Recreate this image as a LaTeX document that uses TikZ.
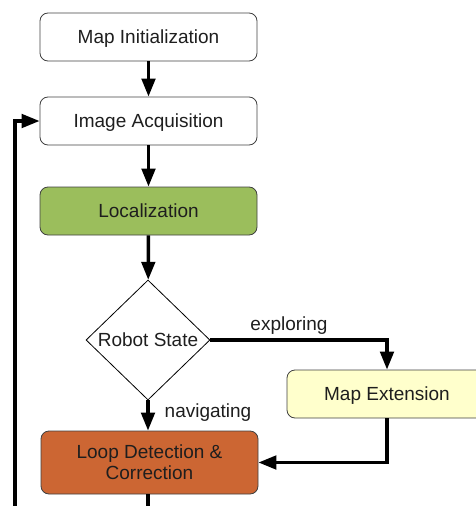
\documentclass[tikz,border=0pt]{standalone}
\usepackage{fontspec}
\setmainfont{Liberation Sans}
\usetikzlibrary{shapes.geometric,arrows.meta}
\definecolor{locgreen}{RGB}{155,190,92}
\definecolor{extyellow}{RGB}{255,255,204}
\definecolor{looporange}{RGB}{204,102,51}
\definecolor{txt}{RGB}{30,30,30}
\begin{document}
\begin{tikzpicture}[x=1pt,y=-1pt,
  box/.style={draw=black!75, line width=0.8pt, rounded corners=8pt,
    minimum width=217pt, minimum height=48pt, inner sep=0pt, align=center,
    text=txt, font=\fontsize{19}{21}\selectfont},
  oneline/.style={text height=13.6pt, text depth=0pt},
  decision/.style={diamond, draw=black, line width=0.8pt, aspect=1.03,
    minimum width=124pt, minimum height=120pt, inner sep=0pt,
    text=txt, font=\fontsize{19}{21}\selectfont,
    text height=13.6pt, text depth=0pt},
  flow/.style={line width=3.4pt, -{Triangle[length=18pt,width=13.5pt]}},
  plain/.style={line width=3.4pt},
  lbl/.style={text=txt, font=\fontsize{19}{21}\selectfont, inner sep=0pt}]
\useasboundingbox (0,0) rectangle (475,506);

% process steps
\node[box, oneline] (init) at (148.5,37) {Map Initialization};
\node[box, oneline] (acq) at (148.5,121) {Image Acquisition};
\node[box, oneline, fill=locgreen] (loc) at (148.5,211) {Localization};
\node[decision] (state) at (148,340) {Robot State};
\node[box, oneline, fill=extyellow, minimum width=200pt] (ext) at (387,394) {Map Extension};
\node[box, fill=looporange, minimum height=63pt] (loop) at (149.5,462.5) {Loop Detection \&\\Correction};

% free ends of the loop that runs past the bottom edge
\coordinate (down) at (148,506);
\coordinate (back) at (15,506);

% connectors
\draw[flow] (init) -- (acq);
\draw[flow] (acq) -- (loc);
\draw[flow] (loc) -- (state);
\draw[flow] (state.east) -| (ext.north);
\draw[flow] (state.south) -- (state.south |- loop.north);
\draw[flow] (ext.south) |- (loop.east);
\draw[plain] (loop.south -| down) -- (down);
\draw[flow] (back) |- (acq.west);

% branch labels
\node[lbl] (explbl) at (289,325.5) {exploring};
\node[lbl] (navlbl) at (208,413) {navigating};
\end{tikzpicture}
\end{document}
